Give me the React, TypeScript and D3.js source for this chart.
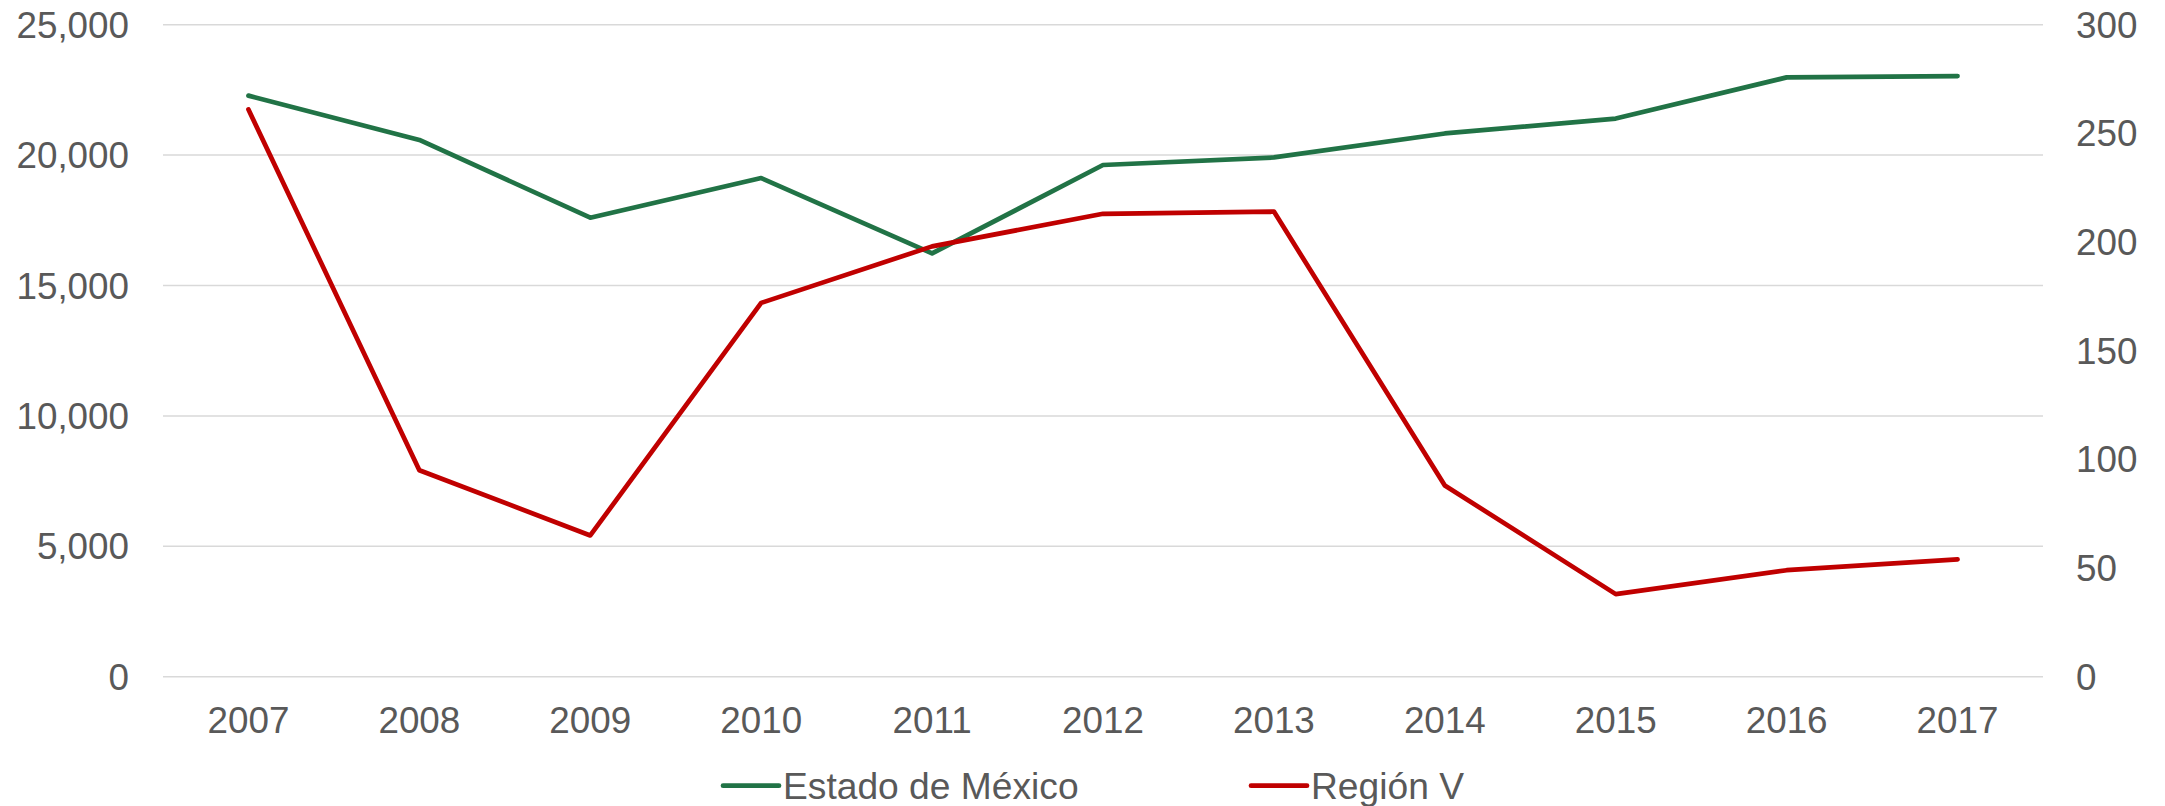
import React from "react";
import * as d3 from "d3";

const years = ["2007", "2008", "2009", "2010", "2011", "2012", "2013", "2014", "2015", "2016", "2017"];
const estadoMexico = [22280, 20580, 17600, 19120, 16230, 19620, 19910, 20830, 21400, 22980, 23030];
const regionV = [261, 95, 65, 172, 198, 213, 214, 88, 38, 49, 54];
const leftTicks = [0, 5000, 10000, 15000, 20000, 25000];
const rightTicks = [0, 50, 100, 150, 200, 250, 300];
const seriesNames = ["Estado de México", "Región V"];
const seriesColors = ["#217346", "#C00000"];

const W = 2165;
const H = 806;
const plot = { left: 163, right: 2043, top: 24.7, bottom: 676.7 };
const FONT = "'Liberation Sans', Arial, sans-serif";
const TEXT = "#595959";
const FS = 36.8;

export default function App() {
  const x = d3.scaleBand<string>().domain(years).range([plot.left, plot.right]);
  const yL = d3.scaleLinear().domain([0, 25000]).range([plot.bottom, plot.top]);
  const yR = d3.scaleLinear().domain([0, 300]).range([plot.bottom, plot.top]);
  const cx = (d: string) => (x(d) as number) + x.bandwidth() / 2;
  const fmt = d3.format(",");

  const lineL = d3
    .line<number>()
    .x((_, i) => cx(years[i]))
    .y((d) => yL(d));
  const lineR = d3
    .line<number>()
    .x((_, i) => cx(years[i]))
    .y((d) => yR(d));

  const legend = [
    { name: seriesNames[0], color: seriesColors[0], x1: 723, x2: 779, tx: 783 },
    { name: seriesNames[1], color: seriesColors[1], x1: 1251, x2: 1307, tx: 1311 },
  ];
  const legendY = 785.7;

  return (
    <svg
      width={W}
      height={H}
      viewBox={`0 0 ${W} ${H}`}
      style={{ position: "absolute", left: 0, top: 0, background: "#fff" }}
      fontFamily={FONT}
    >
      <rect x={0} y={0} width={W} height={H} fill="#fff" />
      {leftTicks.map((t) => (
        <line
          key={"g" + t}
          x1={plot.left}
          x2={plot.right}
          y1={yL(t)}
          y2={yL(t)}
          stroke="#D9D9D9"
          strokeWidth={1.5}
        />
      ))}
      {leftTicks.map((t) => (
        <text key={"l" + t} x={129} y={yL(t) + 13} textAnchor="end" fontSize={FS} fill={TEXT}>
          {fmt(t)}
        </text>
      ))}
      {rightTicks.map((t) => (
        <text key={"r" + t} x={2076} y={yR(t) + 13} textAnchor="start" fontSize={FS} fill={TEXT}>
          {t}
        </text>
      ))}
      {years.map((yv) => (
        <text key={"x" + yv} x={cx(yv)} y={733} textAnchor="middle" fontSize={FS} fill={TEXT}>
          {yv}
        </text>
      ))}
      <path
        d={lineL(estadoMexico) || ""}
        fill="none"
        stroke={seriesColors[0]}
        strokeWidth={4.7}
        strokeLinejoin="round"
        strokeLinecap="round"
      />
      <path
        d={lineR(regionV) || ""}
        fill="none"
        stroke={seriesColors[1]}
        strokeWidth={4.7}
        strokeLinejoin="round"
        strokeLinecap="round"
      />
      {legend.map((l) => (
        <g key={l.name}>
          <line
            x1={l.x1}
            x2={l.x2}
            y1={legendY}
            y2={legendY}
            stroke={l.color}
            strokeWidth={4.7}
            strokeLinecap="round"
          />
          <text x={l.tx} y={legendY + 13} fontSize={37.2} fill={TEXT}>
            {l.name}
          </text>
        </g>
      ))}
    </svg>
  );
}
